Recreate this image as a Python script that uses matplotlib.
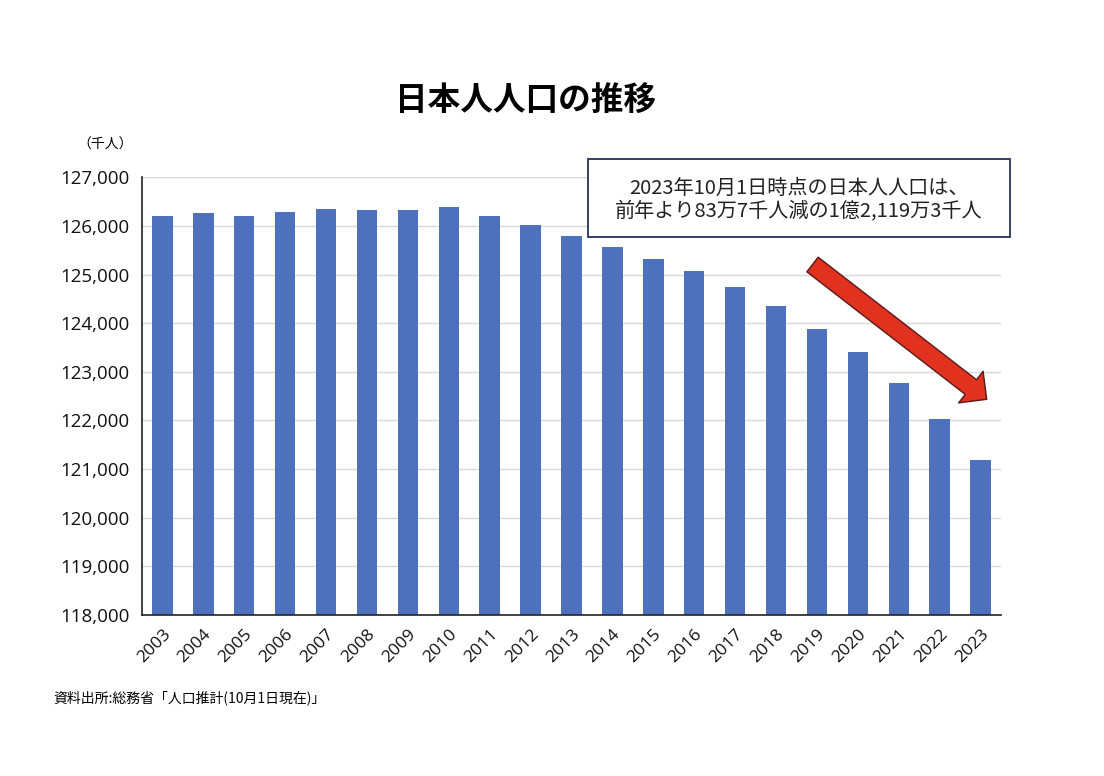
import matplotlib
matplotlib.use("Agg")
import matplotlib.pyplot as plt
from matplotlib.patches import Rectangle

plt.rcParams['font.family'] = ['Noto Sans CJK JP', 'DejaVu Sans']
num_font = ['Open Sans', 'Noto Sans CJK JP']

# 日本人人口（千人）, 各年10月1日現在
years = [str(y) for y in range(2003, 2024)]
population = [126200, 126260, 126195, 126285, 126345, 126335, 126335, 126382,
              126200, 126015, 125800, 125560, 125320, 125071, 124745, 124349,
              123886, 123399, 122780, 122031, 121193]
yticks = list(range(118000, 127001, 1000))

title = "日本人人口の推移"
unit_label = "（千人）"
note_lines = ["2023年10月1日時点の日本人人口は、",
              "前年より83万7千人減の1億2,119万3千人"]
source = "資料出所:総務省「人口推計(10月1日現在)」"

W, H = 1104, 776
fig = plt.figure(figsize=(W / 100, H / 100), dpi=100)
ax = fig.add_axes([142 / W, 1 - 615 / H, (1001 - 142) / W, (615 - 177.3) / H])

x = range(len(years))
ax.bar(x, population, width=0.5, color="#4e71be", zorder=2)
ax.set_xlim(-0.5, len(years) - 0.5)
ax.set_ylim(118000, 127000)
ax.set_yticks(yticks)
ax.set_yticklabels([f"{v:,}" for v in yticks], fontsize=13.5, color="#111111",
                   family=num_font)
ax.set_xticks(list(x))
ax.set_xticklabels(years, rotation=45, ha="right", rotation_mode="anchor",
                   fontsize=12.5, color="#111111", family=num_font)
ax.tick_params(axis="y", length=0, pad=9)
ax.tick_params(axis="x", length=0, pad=8)
ax.grid(axis="y", color="#d9d9d9", linewidth=1, zorder=0)
for s in ["top", "right"]:
    ax.spines[s].set_visible(False)
ax.spines["left"].set_color("#222222")
ax.spines["bottom"].set_color("#222222")
ax.spines["left"].set_linewidth(1.2)
ax.spines["bottom"].set_linewidth(1.2)

fig.text(526 / W, 1 - 101 / H, title, fontsize=23.5, fontweight="bold",
         ha="center", va="center")
fig.text(105 / W, 1 - 145 / H, unit_label, fontsize=10, ha="center", va="center")
fig.text(53 / W, 1 - 698 / H, source, fontsize=10, ha="left", va="center")

# 注記ボックス
box = Rectangle((587.7 / W, 1 - 236.7 / H), (1010 - 587.7) / W, 77.7 / H,
                transform=fig.transFigure, facecolor="white",
                edgecolor="#27305a", linewidth=1.3, zorder=5)
fig.add_artist(box)
fig.text(799 / W, 1 - 188 / H, note_lines[0], fontsize=14.5, ha="center",
         va="center", color="#222222", zorder=6)
fig.text(799 / W, 1 - 211 / H, note_lines[1], fontsize=14.5, ha="center",
         va="center", color="#222222", zorder=6)

# 赤い矢印
ax.annotate("", xy=(986.7, H - 399.3), xycoords="figure pixels",
            xytext=(812.5, H - 264.5), textcoords="figure pixels",
            arrowprops=dict(arrowstyle="simple,head_length=14.4,head_width=28.8,tail_width=13.3",
                            mutation_scale=1, facecolor="#e0321f",
                            edgecolor="#5a1a1a", linewidth=1,
                            shrinkA=0, shrinkB=0),
            annotation_clip=False)

fig.savefig("out.png", dpi=100)
